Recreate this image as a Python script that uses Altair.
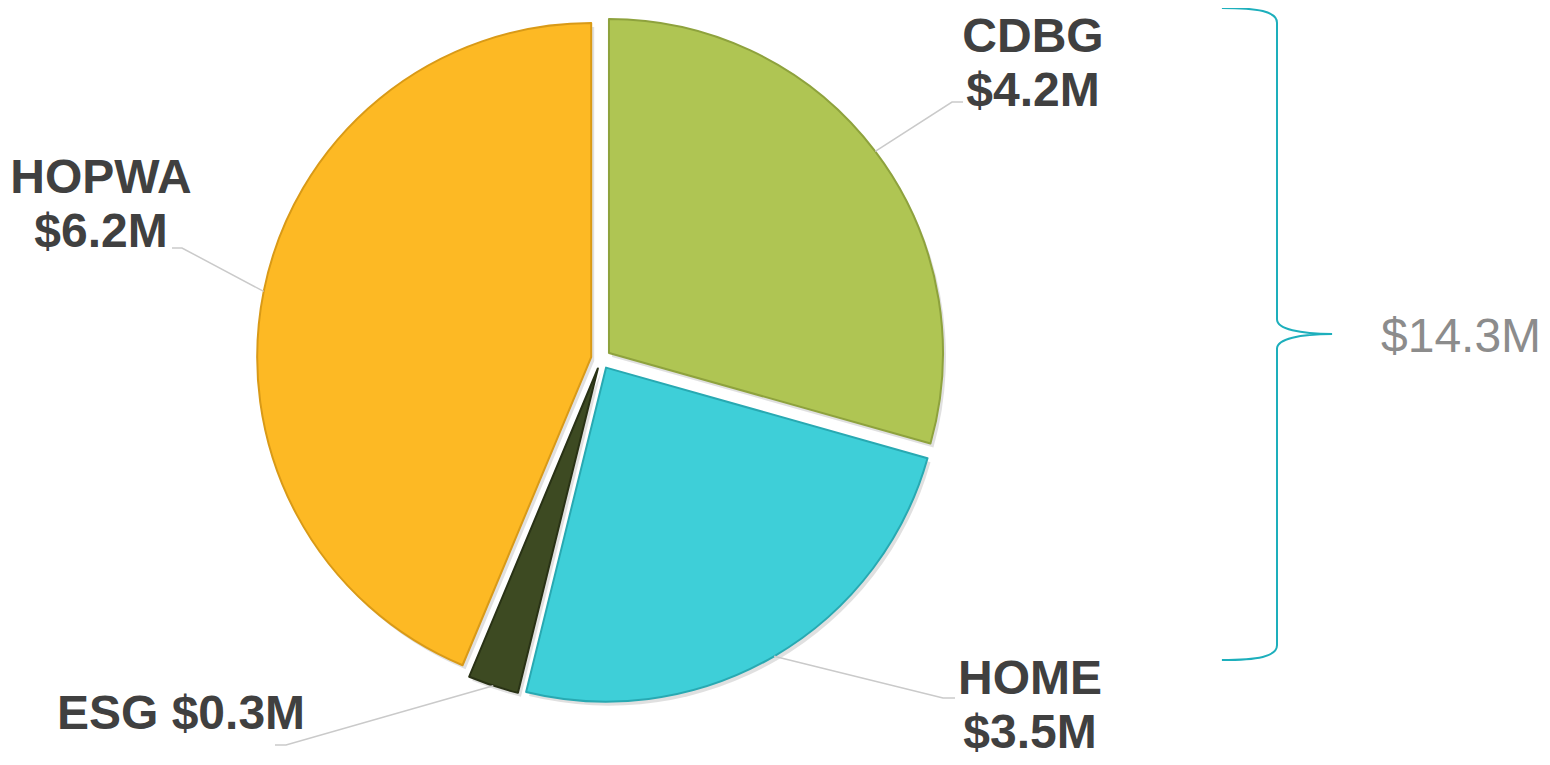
import math
import altair as alt
import pandas as pd

# ---- data -------------------------------------------------------------
categories = ["CDBG", "HOME", "ESG", "HOPWA"]
amounts = [4.2, 3.5, 0.35, 6.25]               # $ millions (slice sizes)
value_labels = ["$4.2M", "$3.5M", "$0.3M", "$6.2M"]
total_label = "$14.3M"

# ---- style ------------------------------------------------------------
colors = ["#AFC553", "#3ECFD8", "#3D4A22", "#FDB924"]
edge_colors = ["#8EA23D", "#28A9B2", "#293215", "#D99A17"]
label_color = "#404040"
leader_color = "#CACACA"
bracket_color = "#1DAFBC"
FONT = "Liberation Sans"
FONT_SIZE = 48
LINE_HEIGHT = 54

# ---- layout (chart pixel space; page margin is 8px) --------------------
M = 8
W, H = 1550 - 2 * M, 765 - 2 * M
CX, CY = 601 - M, 359 - M      # pie centre
R = 334                         # pie radius
EXPLODE = 10                    # slice explosion distance

# label anchor (centre x, first baseline y) and leader elbow/end, in page pixels
label_layout = {
    "CDBG":  dict(x=1033, y=52,  two_lines=True,  leader=[(952, 102), (963, 102)]),
    "HOME":  dict(x=1030, y=694, two_lines=True,  leader=[(943, 698), (955, 698)]),
    "ESG":   dict(x=181,  y=729, two_lines=False, leader=[(286, 745), (275, 745)]),
    "HOPWA": dict(x=101,  y=193, two_lines=True,  leader=[(182, 248), (172, 248)]),
}

total = sum(amounts)

# ---- tables built from the arrays -------------------------------------
slice_rows, leader_rows, label_rows = [], [], []
cum = 0.0
for cat, amt, vl in zip(categories, amounts, value_labels):
    start, end = cum, cum + amt
    cum = end
    mid = (start + end) / 2 / total * 2 * math.pi
    cx = CX + EXPLODE * math.sin(mid)
    cy = CY - EXPLODE * math.cos(mid)
    slice_rows.append(dict(category=cat, amount=amt, start=start, end=end, cx=cx, cy=cy))
    lay = label_layout[cat]
    pts = [(cx + R * math.sin(mid), cy - R * math.cos(mid))] + [
        (px - M, py - M) for px, py in lay["leader"]
    ]
    for i, (px, py) in enumerate(pts):
        leader_rows.append(dict(category=cat, i=i, px=px, py=py))
    text = f"{cat}\n{vl}" if lay["two_lines"] else f"{cat} {vl}"
    label_rows.append(dict(category=cat, text=text, lx=lay["x"] - M, ly=lay["y"] - M))

slices = pd.DataFrame(slice_rows)
leaders = pd.DataFrame(leader_rows)
labels = pd.DataFrame(label_rows)

theta_scale = alt.Scale(domain=[0, total], range=[0, 2 * math.pi])
xpix = lambda f: alt.X(f, type="quantitative", scale=None, axis=None)
ypix = lambda f: alt.Y(f, type="quantitative", scale=None, axis=None)

base = alt.Chart(slices).encode(
    x=xpix("cx"),
    y=ypix("cy"),
    theta=alt.Theta("start:Q", scale=theta_scale, stack=None),
    theta2="end:Q",
)

shadow = base.mark_arc(outerRadius=R, color="#000000", opacity=0.12, xOffset=3, yOffset=4)

pie = base.mark_arc(outerRadius=R, strokeWidth=2, strokeJoin="round").encode(
    color=alt.Color("category:N", scale=alt.Scale(domain=categories, range=colors), legend=None),
    stroke=alt.Stroke("category:N", scale=alt.Scale(domain=categories, range=edge_colors), legend=None),
)

leader_lines = alt.Chart(leaders).mark_line(color=leader_color, strokeWidth=1.5).encode(
    x=xpix("px"),
    y=ypix("py"),
    detail="category:N",
    order=alt.Order("i:Q"),
)

label_text = alt.Chart(labels).mark_text(
    font=FONT, fontSize=FONT_SIZE, fontWeight="bold", color=label_color,
    align="center", baseline="alphabetic", lineBreak="\n", lineHeight=LINE_HEIGHT,
).encode(
    x=xpix("lx"),
    y=ypix("ly"),
    text="text:N",
)

one = pd.DataFrame({"k": [0]})
BR_TOP, BR_BOT = 8 - M, 660 - M
BR_HALF = (BR_BOT - BR_TOP) / 2
BR_X = 1277 - M
bracket_path = (
    "M -0.169 -1 C -0.06 -1 0 -0.99 0 -0.955 "
    "L 0 -0.045 C 0 -0.015 0.07 0 0.169 0 "
    "C 0.07 0 0 0.015 0 0.045 "
    "L 0 0.955 C 0 0.99 -0.06 1 -0.169 1"
)
bracket = alt.Chart(one).mark_point(
    shape=bracket_path, filled=False, stroke=bracket_color, strokeWidth=2, opacity=1
).encode(
    x=alt.value(BR_X),
    y=alt.value(BR_TOP + BR_HALF),
    size=alt.value((2 * BR_HALF) ** 2),
)

total_text = alt.Chart(one).mark_text(
    font=FONT, fontSize=FONT_SIZE, color="#8C8C8C", align="left", baseline="alphabetic", text=total_label
).encode(
    x=alt.value(1381 - M),
    y=alt.value(352 - M),
)

chart = alt.layer(shadow, pie, leader_lines, label_text, bracket, total_text).properties(
    width=W, height=H, autosize="none", padding=0, background="white"
).configure_view(stroke=None)

chart.save("out.html", embed_options={"renderer": "svg", "actions": False})
